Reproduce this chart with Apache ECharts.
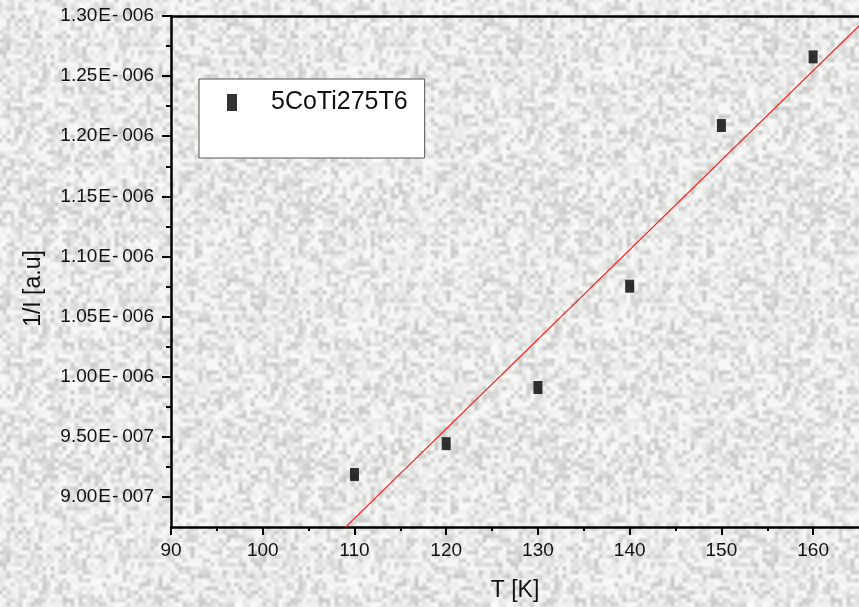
<!DOCTYPE html>
<html>
<head>
<meta charset="utf-8">
<script src="https://cdn.jsdelivr.net/npm/echarts@6.0.0/dist/echarts.min.js"></script>
<style>
  html, body { margin: 0; padding: 0; background: #e9e9e7; }
  #chart { width: 859px; height: 607px; }
</style>
</head>
<body>
<div id="chart"></div>
<script>
// Measured points: temperature (K) and inverse intensity (a.u.)
const temps = [110, 120, 130, 140, 150, 160];
const invIntensity = [9.187e-7, 9.443e-7, 9.91e-7, 1.0753e-6, 1.2089e-6, 1.266e-6];

// Linear fit, drawn between its two end points
const fitT = [109, 165];
const fitInv = [8.747e-7, 1.2917e-6];

// Axis ticks
const xMajorTicks = [90, 100, 110, 120, 130, 140, 150, 160];
const xMinorTicks = [95, 105, 115, 125, 135, 145, 155];
const xTopTicks = [95, 100, 105, 110, 115, 120, 125, 130, 135, 140, 145, 150, 155, 160];
const yMajorTicks = [9.0e-7, 9.5e-7, 1.0e-6, 1.05e-6, 1.1e-6, 1.15e-6, 1.2e-6, 1.25e-6, 1.3e-6];
const yMinorTicks = [9.25e-7, 9.75e-7, 1.025e-6, 1.075e-6, 1.125e-6, 1.175e-6, 1.225e-6, 1.275e-6];

const seriesName = '5CoTi275T6';
const FONT = '"Liberation Sans", Arial, sans-serif';

// Soft grey paper-like backdrop: a seamless tile of smoothed speckle
function paperTexture() {
  const n = 64, k = 4, size = n * k;
  let seed = 90731;
  const next = () => (seed = (seed * 1103515245 + 12345) & 0x7fffffff) / 0x7fffffff;
  const grid = new Float32Array(n * n);
  for (let i = 0; i < n * n; i++) grid[i] = 250 - Math.pow(next(), 1.7) * 52;
  const at = (x, y) => grid[((y + n) % n) * n + ((x + n) % n)];
  const cv = document.createElement('canvas');
  cv.width = cv.height = size;
  const ctx = cv.getContext('2d');
  const img = ctx.createImageData(size, size);
  for (let py = 0; py < size; py++) {
    for (let px = 0; px < size; px++) {
      const gx = px / k, gy = py / k;
      const x0 = Math.floor(gx), y0 = Math.floor(gy);
      const fx = gx - x0, fy = gy - y0;
      const sx = fx * fx * (3 - 2 * fx), sy = fy * fy * (3 - 2 * fy);
      const top = at(x0, y0) * (1 - sx) + at(x0 + 1, y0) * sx;
      const bot = at(x0, y0 + 1) * (1 - sx) + at(x0 + 1, y0 + 1) * sx;
      const v = Math.round(top * (1 - sy) + bot * sy);
      const o = (py * size + px) * 4;
      img.data[o] = v;
      img.data[o + 1] = v;
      img.data[o + 2] = v - 2;
      img.data[o + 3] = 255;
    }
  }
  ctx.putImageData(img, 0, 0);
  return cv;
}

function sciLabel(v) {
  const parts = v.toExponential(2).split('e');
  const e = parseInt(parts[1], 10);
  const exp = String(Math.abs(e)).padStart(3, '0');
  return '{m|' + parts[0] + '}{e|E}{h|' + (e < 0 ? '-' : '+') + '}{d|' + exp + '}';
}

const chart = echarts.init(document.getElementById('chart'), null, { renderer: 'canvas' });

const labelRich = {
  m: { fontSize: 19, fontFamily: FONT, color: '#111', padding: [0, 1, 0, 0] },
  e: { fontSize: 19, fontFamily: FONT, color: '#111', padding: [0, 1, 0, 0] },
  h: { fontSize: 19, fontFamily: FONT, color: '#111', padding: [0, 4, 0, 0] },
  d: { fontSize: 19, fontFamily: FONT, color: '#111' }
};

const X_MIN = 90, X_MAX = 165, Y_MIN = 8.75e-7, Y_MAX = 1.3e-6;

chart.setOption({
  animation: false,
  backgroundColor: { image: paperTexture(), repeat: 'repeat' },
  grid: { left: 171, top: 16, right: -2, bottom: 79, containLabel: false },
  legend: {
    left: 199,
    top: 79,
    orient: 'vertical',
    data: [{ name: seriesName, icon: 'rect' }],
    itemWidth: 10,
    itemHeight: 17,
    backgroundColor: '#ffffff',
    borderColor: '#555555',
    borderWidth: 1,
    borderRadius: 0,
    padding: [11, 17, 43, 28],
    selectedMode: false,
    textStyle: { fontSize: 25, fontFamily: FONT, color: '#111', padding: [0, 0, 0, 29], lineHeight: 24 }
  },
  xAxis: [
    {
      type: 'value', min: X_MIN, max: X_MAX, position: 'bottom',
      name: 'T [K]', nameLocation: 'middle', nameGap: 52,
      nameTextStyle: { fontSize: 23, fontFamily: FONT, color: '#111' },
      axisLine: { show: true, onZero: false, lineStyle: { color: '#000', width: 2.5 } },
      axisTick: { show: true, inside: false, length: 8, customValues: xMajorTicks, lineStyle: { color: '#000', width: 2 } },
      axisLabel: { show: true, margin: 14, customValues: xMajorTicks, fontSize: 19, fontFamily: FONT, color: '#111' },
      splitLine: { show: false }
    },
    {
      type: 'value', min: X_MIN, max: X_MAX, position: 'bottom',
      axisLine: { show: false, onZero: false },
      axisTick: { show: true, inside: false, length: 4, customValues: xMinorTicks, lineStyle: { color: '#000', width: 2 } },
      axisLabel: { show: false },
      splitLine: { show: false }
    },
    {
      type: 'value', min: X_MIN, max: X_MAX, position: 'top',
      axisLine: { show: true, onZero: false, lineStyle: { color: '#000', width: 2.5 } },
      axisTick: { show: true, inside: true, length: 2, customValues: xTopTicks, lineStyle: { color: '#000', width: 1 } },
      axisLabel: { show: false },
      splitLine: { show: false }
    }
  ],
  yAxis: [
    {
      type: 'value', min: Y_MIN, max: Y_MAX, position: 'left',
      name: '1/I [a.u]', nameLocation: 'middle', nameGap: 126, nameRotate: 90,
      nameTextStyle: { fontSize: 23, fontFamily: FONT, color: '#111', padding: [0, 34, 0, 0] },
      axisLine: { show: true, onZero: false, lineStyle: { color: '#000', width: 2.5 } },
      axisTick: { show: true, inside: false, length: 9, customValues: yMajorTicks, lineStyle: { color: '#000', width: 2 } },
      axisLabel: { show: true, margin: 17, customValues: yMajorTicks, formatter: sciLabel, rich: labelRich },
      splitLine: { show: false }
    },
    {
      type: 'value', min: Y_MIN, max: Y_MAX, position: 'left',
      axisLine: { show: false, onZero: false },
      axisTick: { show: true, inside: false, length: 5, customValues: yMinorTicks, lineStyle: { color: '#000', width: 2 } },
      axisLabel: { show: false },
      splitLine: { show: false }
    }
  ],
  series: [
    {
      name: 'fit',
      type: 'line',
      xAxisIndex: 0, yAxisIndex: 0,
      data: fitT.map((t, i) => [t, fitInv[i]]),
      showSymbol: false,
      symbol: 'none',
      clip: true,
      lineStyle: { color: '#ff1a1a', width: 1.2 },
      silent: true,
      z: 3
    },
    {
      name: seriesName,
      type: 'scatter',
      xAxisIndex: 0, yAxisIndex: 0,
      data: temps.map((t, i) => [t, invIntensity[i]]),
      symbol: 'rect',
      symbolSize: [9, 13],
      itemStyle: { color: '#000' },
      z: 4
    }
  ]
});
</script>
</body>
</html>
